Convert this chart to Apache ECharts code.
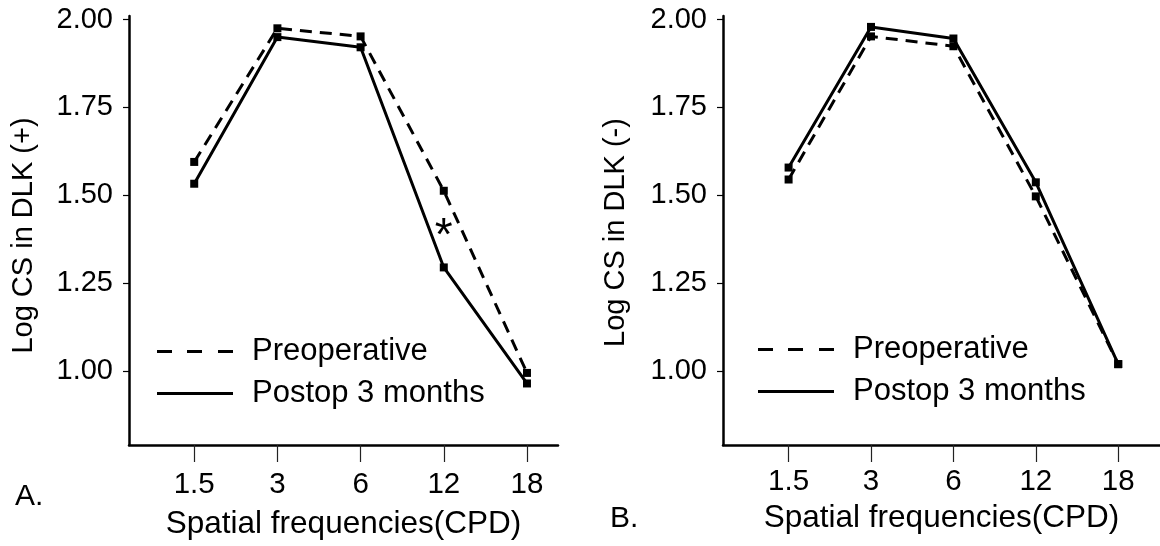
<!DOCTYPE html>
<html lang="en">
<head>
  <meta charset="UTF-8">
  <title>Contrast sensitivity in DLK</title>
  <script src="https://cdn.jsdelivr.net/npm/echarts@6/dist/echarts.min.js"></script>
  <style>
    body {
      margin: 0;
      background: #fff;
    }

    #main {
      width: 1160px;
      height: 546px;
    }
  </style>
</head>
<body>
  <div id="main"></div>

  <script>
  // spatial frequency categories (CPD)
  const xLabels = ['1.5', '3', '6', '12', '18'];
  const yTicks = [1.00, 1.25, 1.50, 1.75, 2.00];

  // panel A: DLK (+)
  const preopA = [1.595, 1.975, 1.952, 1.513, 0.995];
  const postopA = [1.533, 1.950, 1.921, 1.295, 0.965];
  // panel B: DLK (-)
  const preopB = [1.545, 1.952, 1.924, 1.497, 1.020];
  const postopB = [1.579, 1.979, 1.946, 1.537, 1.020];

  // significance mark in panel A, near 12 CPD
  const starPoint = [3, 1.38];

  const FONT = '"Liberation Sans", Arial, sans-serif';
  const chart = echarts.init(document.getElementById('main'));

  const toPoints = arr => arr.map((v, i) => [i, v]);

  function xAxis(gridIndex, min, max, labelMargin, nameGap) {
    return {
      type: 'value',
      gridIndex: gridIndex,
      min: min,
      max: max,
      name: 'Spatial frequencies(CPD)',
      nameLocation: 'middle',
      nameGap: nameGap,
      nameTextStyle: { fontFamily: FONT, fontSize: 31.5, color: '#000' },
      axisLine: { onZero: false, lineStyle: { color: '#000', width: 2.5 } },
      axisTick: { customValues: [0, 1, 2, 3, 4], length: 17, lineStyle: { color: '#222', width: 1.2 } },
      axisLabel: {
        customValues: [0, 1, 2, 3, 4],
        formatter: v => xLabels[Math.round(v)],
        margin: labelMargin,
        fontFamily: FONT, fontSize: 29.5, color: '#000'
      },
      splitLine: { show: false }
    };
  }

  function yAxis(gridIndex, name, nameGap, shift) {
    return {
      type: 'value',
      gridIndex: gridIndex,
      min: 0.79,
      max: 2.01,
      name: name,
      nameLocation: 'middle',
      nameGap: nameGap,
      nameTextStyle: { fontFamily: FONT, fontSize: 29, color: '#000', padding: [0, shift, 0, 0] },
      axisLine: { show: true, onZero: false, lineStyle: { color: '#000', width: 2.5 } },
      axisTick: { show: true, customValues: yTicks, length: 6, lineStyle: { color: '#000', width: 1.2 } },
      axisLabel: {
        customValues: yTicks,
        formatter: v => v.toFixed(2),
        margin: 16,
        fontFamily: FONT, fontSize: 29, color: '#000'
      },
      splitLine: { show: false }
    };
  }

  function lineSeries(name, data, idx, dashed) {
    return {
      name: name,
      type: 'line',
      xAxisIndex: idx,
      yAxisIndex: idx,
      data: toPoints(data),
      symbol: 'rect',
      symbolSize: 8,
      itemStyle: { color: '#000' },
      lineStyle: { color: '#000', width: 3, type: dashed ? [12, 8] : 'solid' },
      animation: false,
      z: dashed ? 2 : 3
    };
  }

  const dashIcon = 'path://M0,0h15v3h-15z M30,0h15v3h-15z M61,0h15v3h-15z';
  const solidIcon = 'path://M0,0h76v3h-76z';

  function legend(left, top) {
    return {
      left: left,
      top: top,
      padding: 0,
      orient: 'vertical',
      itemWidth: 76,
      itemHeight: 3,
      itemGap: 11,
      selectedMode: false,
      textStyle: { fontFamily: FONT, fontSize: 31, color: '#000', lineHeight: 31, padding: [0, 0, 0, 14] },
      data: [
        { name: 'Preoperative', icon: dashIcon, itemStyle: { color: '#000' } },
        { name: 'Postop 3 months', icon: solidIcon, itemStyle: { color: '#000' } }
      ]
    };
  }

  const option = {
    backgroundColor: '#fff',
    animation: false,
    grid: [
      { left: 129, top: 16, width: 429, bottom: 101 },
      { left: 723, top: 16, width: 437, bottom: 101 }
    ],
    xAxis: [
      xAxis(0, -0.784, 4.373, 25, 63),
      xAxis(1, -0.796, 4.507, 22, 55)
    ],
    yAxis: [
      yAxis(0, 'Log CS in DLK (+)', 91, 10),
      yAxis(1, 'Log CS in DLK (-)', 93, 4)
    ],
    legend: [legend(157, 336), legend(758, 334)],
    series: [
      lineSeries('Preoperative', preopA, 0, true),
      Object.assign(lineSeries('Postop 3 months', postopA, 0, false), {
        markPoint: {
          symbol: 'circle',
          symbolSize: 0,
          label: { show: true, formatter: '*', position: 'inside', fontFamily: FONT, fontSize: 46, color: '#000' },
          data: [{ coord: starPoint }]
        }
      }),
      lineSeries('Preoperative', preopB, 1, true),
      lineSeries('Postop 3 months', postopB, 1, false)
    ],
    graphic: [
      { type: 'text', left: 15, top: 482, style: { text: 'A.', font: '30px ' + FONT, fill: '#000' } },
      { type: 'text', left: 610, top: 504, style: { text: 'B.', font: '30px ' + FONT, fill: '#000' } }
    ]
  };

  chart.setOption(option);
  </script>
</body>
</html>
